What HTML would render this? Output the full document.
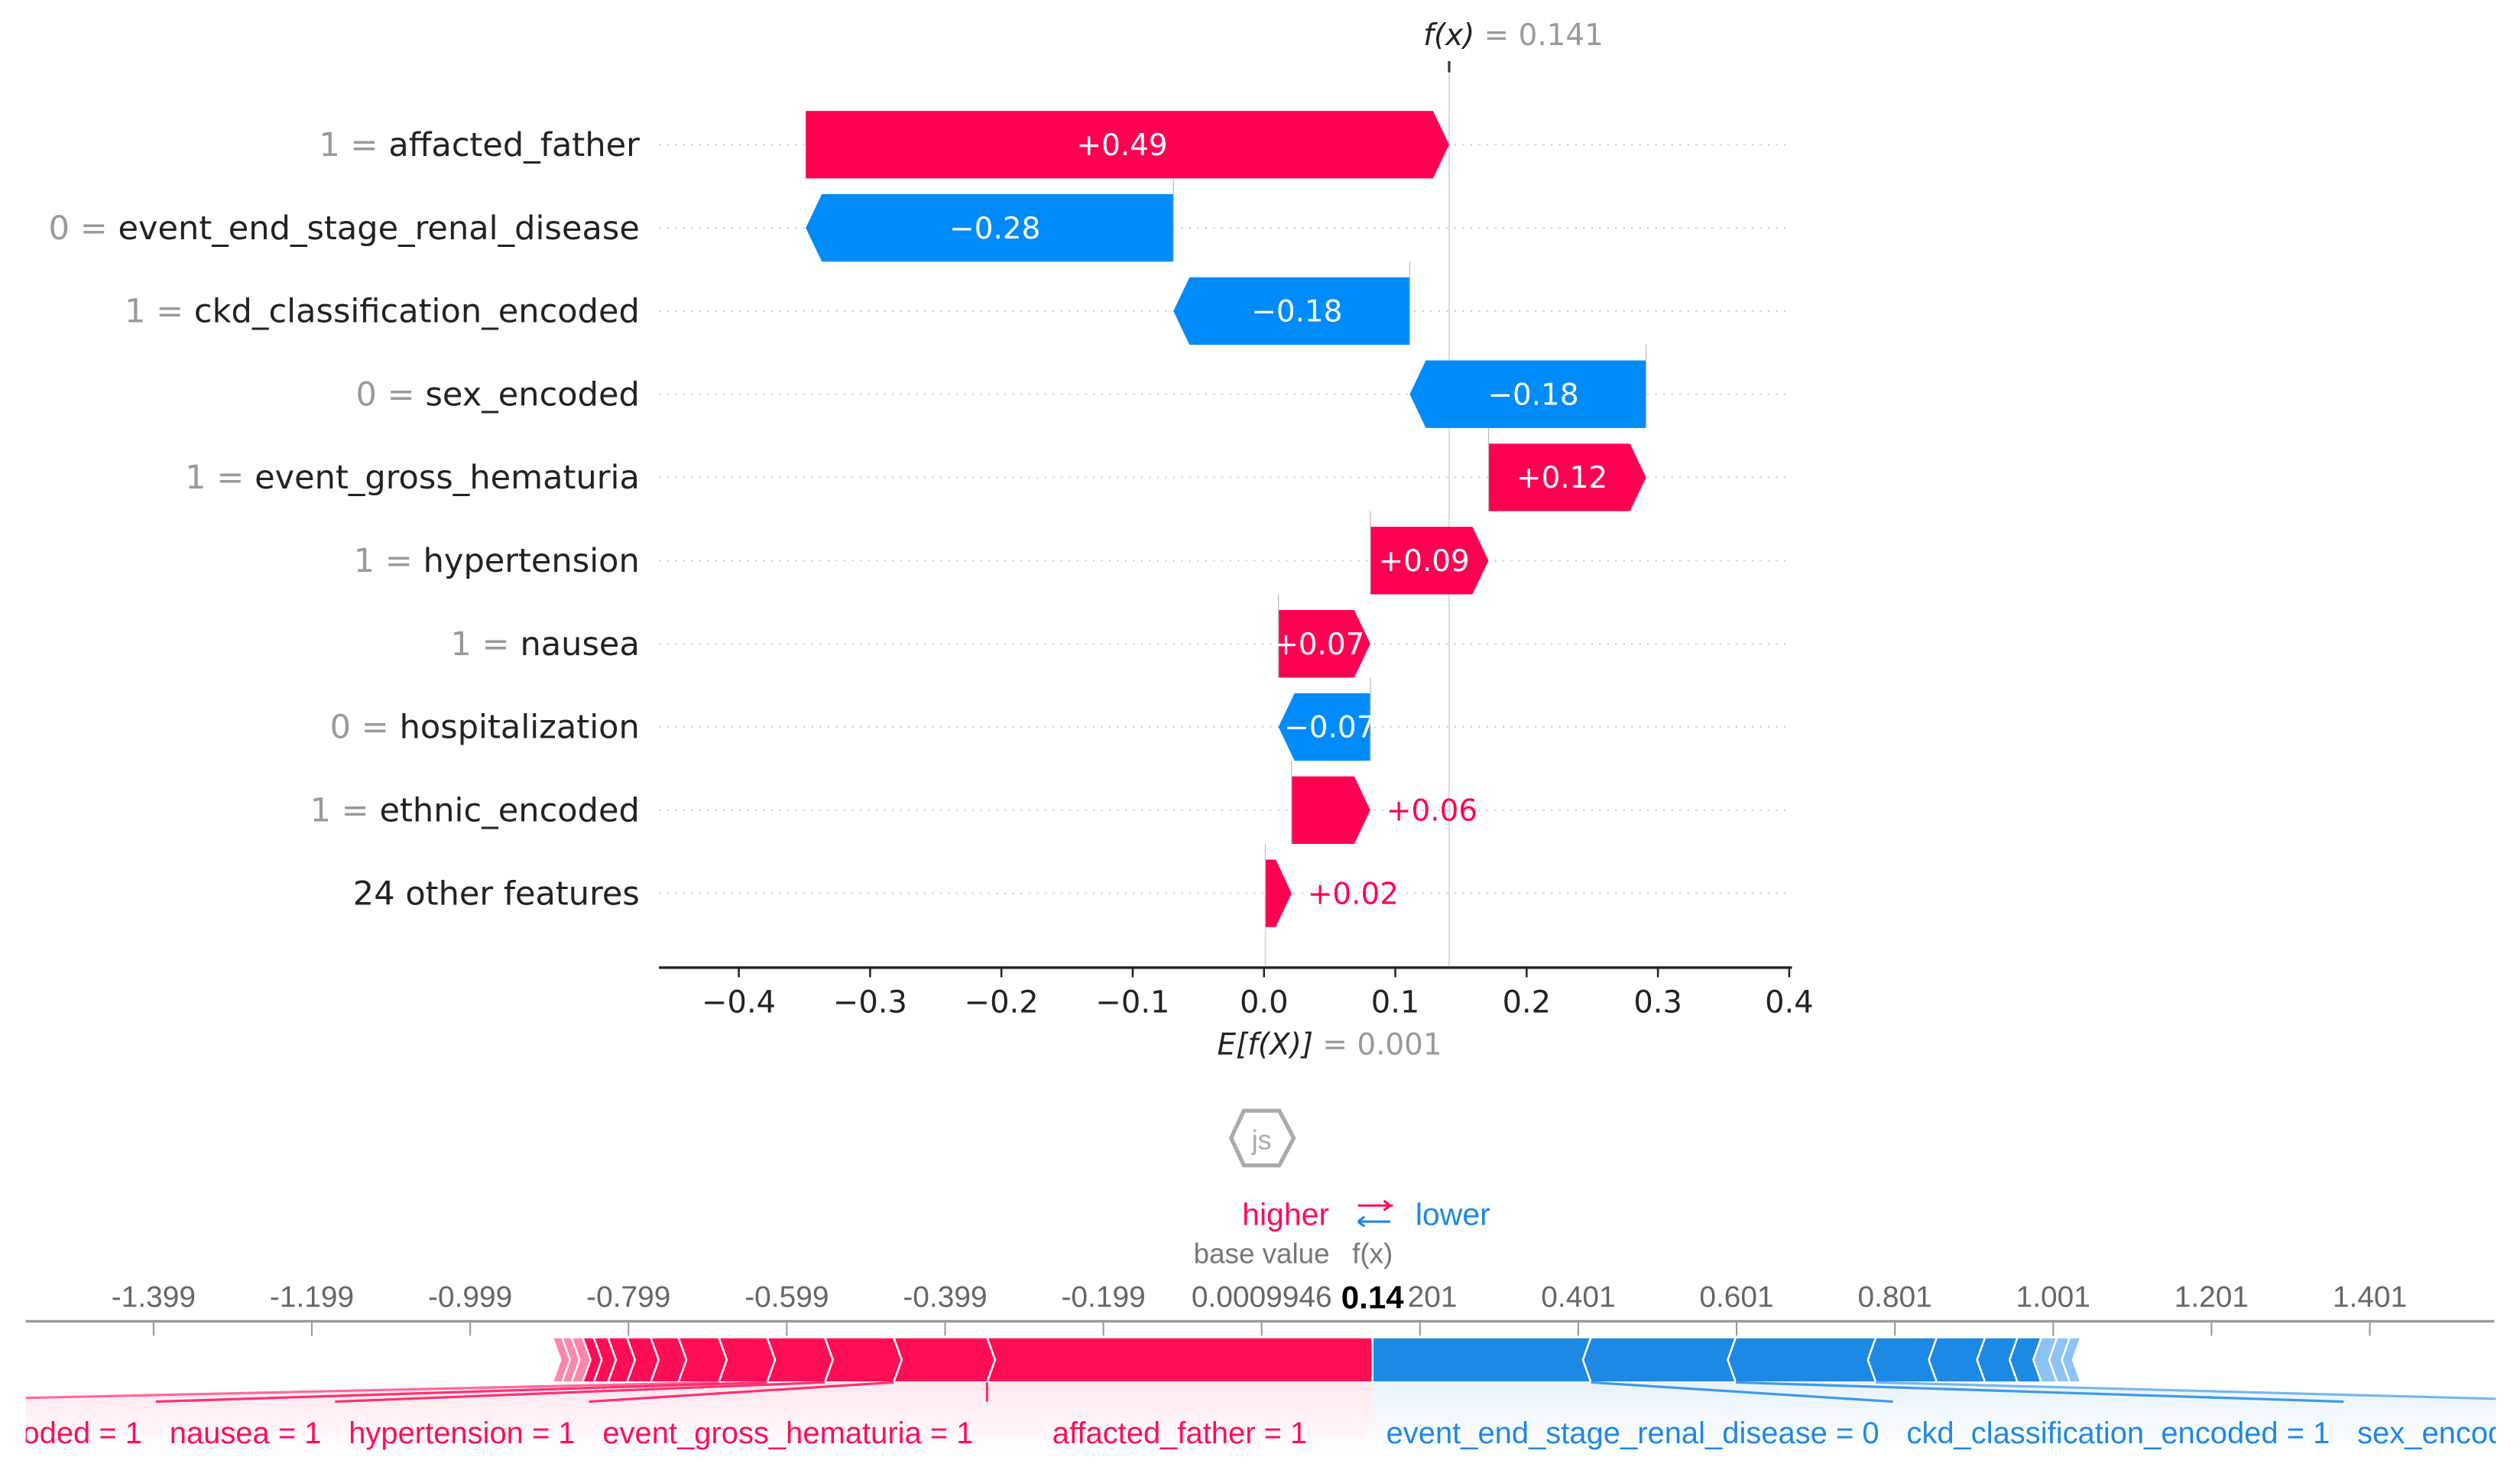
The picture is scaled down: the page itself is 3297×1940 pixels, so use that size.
<!DOCTYPE html>
<html><head><meta charset="utf-8">
<style>
html,body{margin:0;padding:0;background:#fff;}
svg{display:block;}
.wf{font-family:"DejaVu Sans","Liberation Sans",sans-serif;}
.fp{font-family:"Liberation Sans",Arial,sans-serif;}
</style></head>
<body>
<svg id="chart" width="3297" height="1940" viewBox="0 0 1568 922.6" xmlns="http://www.w3.org/2000/svg">
<defs>
<linearGradient id="gr" x1="0" y1="0" x2="0" y2="1"><stop offset="0" stop-color="#ff0d57" stop-opacity="0.1"/><stop offset="1" stop-color="#ff0d57" stop-opacity="0"/></linearGradient>
<linearGradient id="gb" x1="0" y1="0" x2="0" y2="1"><stop offset="0" stop-color="#1e88e5" stop-opacity="0.1"/><stop offset="1" stop-color="#1e88e5" stop-opacity="0"/></linearGradient>
<linearGradient id="lr" x1="0" y1="0" x2="0" y2="1"><stop offset="0" stop-color="#ff0d57" stop-opacity="0.6"/><stop offset="1" stop-color="#ff0d57" stop-opacity="0"/></linearGradient>
<linearGradient id="lb" x1="0" y1="0" x2="0" y2="1"><stop offset="0" stop-color="#1e88e5" stop-opacity="0.6"/><stop offset="1" stop-color="#1e88e5" stop-opacity="0"/></linearGradient>
<clipPath id="fpclip"><rect x="16" y="0" width="1537" height="923"/></clipPath>
</defs>
<g id="waterfall" class="wf"></g>
<g id="logo">
<polygon points="774,691 796,691 805,708 796,725 774,725 766,708" fill="none" stroke="#aaa" stroke-width="2.5"/>
<text x="785" y="715" text-anchor="middle" font-family="Liberation Sans,sans-serif" font-size="17" fill="#aaa">js</text>
</g>
<g id="force" class="fp"></g>
</svg>
<script>
// ---------- waterfall data ----------
const wfFeatureValues = ["1","0","1","0","1","1","1","0","1",""];
const wfFeatureNames = ["affacted_father","event_end_stage_renal_disease","ckd_classification_encoded","sex_encoded","event_gross_hematuria","hypertension","nausea","hospitalization","ethnic_encoded","24 other features"];
const wfShap = [0.49,-0.28,-0.18,-0.18,0.12,0.09,0.07,-0.07,0.06,0.02];
const wfBase = 0.001;
const wfFx = 0.141;
const wfTicks = [-0.4,-0.3,-0.2,-0.1,0.0,0.1,0.2,0.3,0.4];
const wfTickLabels = ["\u22120.4","\u22120.3","\u22120.2","\u22120.1","0.0","0.1","0.2","0.3","0.4"];
// ---------- force plot data ----------
const fpPosNames = ["affacted_father = 1","event_gross_hematuria = 1","hypertension = 1","nausea = 1","ethnic_encoded = 1","","","","","","","","",""];
const fpPosVals = [0.487,0.118,0.087,0.073,0.061,0.051,0.035,0.030,0.024,0.018,0.014,0.014,0.012,0.012];
const fpNegNames = ["event_end_stage_renal_disease = 0","ckd_classification_encoded = 1","sex_encoded = 0","","","","","","",""];
const fpNegVals = [0.276,0.183,0.177,0.077,0.061,0.041,0.030,0.020,0.016,0.014];
const fpTicks = [-1.399,-1.199,-0.999,-0.799,-0.599,-0.399,-0.199,0.0009946,0.201,0.401,0.601,0.801,1.001,1.201,1.401];
const fpTickLabels = ["-1.399","-1.199","-0.999","-0.799","-0.599","-0.399","-0.199","0.0009946","0.201","0.401","0.601","0.801","1.001","1.201","1.401"];
const fpOut = 0.141;

const NS="http://www.w3.org/2000/svg";
function mk(parent,tag,attrs,txt){const e=document.createElementNS(NS,tag);for(const k in attrs)e.setAttribute(k,attrs[k]);if(txt!==undefined)e.textContent=txt;parent.appendChild(e);return e;}

// ---------- waterfall ----------
(function(){
const g=document.getElementById('waterfall');
const X=v=>786.5+v*817;
const rowY=i=>90+i*51.75;
const axisY=602, barH=42;
wfShap.forEach((v,i)=>{const l=mk(g,'line',{x1:410,x2:1113,y1:rowY(i),y2:rowY(i),stroke:'#ccc','stroke-width':1,'stroke-dasharray':'1,4'});

});
let l=mk(g,'line',{x1:X(wfFx),x2:X(wfFx),y1:40,y2:axisY,stroke:'#ddd','stroke-width':1});

l=mk(g,'line',{x1:X(wfBase),x2:X(wfBase),y1:rowY(wfShap.length-1),y2:axisY,stroke:'#ddd','stroke-width':1});

mk(g,'line',{x1:X(wfFx),x2:X(wfFx),y1:38,y2:45,stroke:'#333','stroke-width':1.5});
let cur=wfBase;
const starts=[];
for(let i=wfShap.length-1;i>=0;i--){starts[i]=cur;cur+=wfShap[i];}
wfShap.forEach((v,i)=>{
 const a=X(starts[i]), b=X(starts[i]+v), cy=rowY(i), t=cy-barH/2, bt=cy+barH/2;
 const w=Math.abs(b-a), h=Math.min(10,w*0.6);
 let pts;
 if(v>=0) pts=[[a,t],[b-h,t],[b,cy],[b-h,bt],[a,bt]];
 else pts=[[a,t],[b+h,t],[b,cy],[b+h,bt],[a,bt]];
 const col=v>=0?'#ff0051':'#008bfb';
 const p=mk(g,'polygon',{points:pts.map(q=>q.join(',')).join(' '),fill:col});
 
 
 if(i>0){const c=mk(g,'line',{x1:a,x2:a,y1:bt,y2:rowY(i-1)+barH/2,stroke:'#bbb','stroke-width':0.6});
 }
 const lbl=(v>=0?'+':'\u2212')+Math.abs(v).toFixed(2);
 let tx;
 if(w>=52){tx=mk(g,'text',{x:(a+b)/2+(v>=0?-h/3:h/3),y:cy+6.5,'text-anchor':'middle','font-size':18.5,fill:'#fff'},lbl);}
 else{tx=mk(g,'text',{x:Math.max(a,b)+10,y:cy+6.5,'text-anchor':'start','font-size':18.5,fill:col},lbl);}
 
 const fl=mk(g,'text',{x:398,y:cy+7,'text-anchor':'end','font-size':20.5,fill:'#222'});
 
 if(wfFeatureValues[i]!==''){mk(fl,'tspan',{fill:'#999'},wfFeatureValues[i]+' = ');}
 mk(fl,'tspan',{},wfFeatureNames[i]);
});
l=mk(g,'line',{x1:410,x2:1115,y1:axisY,y2:axisY,stroke:'#222','stroke-width':1.6});

wfTicks.forEach((v,i)=>{mk(g,'line',{x1:X(v),x2:X(v),y1:axisY,y2:axisY+6,stroke:'#222','stroke-width':1.2});
 const t=mk(g,'text',{x:X(v),y:axisY+28,'text-anchor':'middle','font-size':19,fill:'#222'},wfTickLabels[i]);
 });
let t=mk(g,'text',{x:X(wfFx)+40,y:28,'text-anchor':'middle','font-size':18.5,fill:'#222'});

mk(t,'tspan',{'font-style':'italic'},'f(x)');mk(t,'tspan',{fill:'#999'},' = '+wfFx.toFixed(3));
t=mk(g,'text',{x:X(wfBase)+40,y:656,'text-anchor':'middle','font-size':18.5,fill:'#222'});

mk(t,'tspan',{'font-style':'italic'},'E[f(X)]');mk(t,'tspan',{fill:'#999'},' = '+wfBase.toFixed(3));
})();

// ---------- force plot ----------
(function(){
const g=document.getElementById('force');
const X=v=>854+(v-fpOut)*492.5;
const axisY=822, bt=832, bb=860, RED='#ff0d57', BLUE='#1e88e5';
let t=mk(g,'text',{x:800,y:762,'text-anchor':'middle','font-size':19.5,fill:RED},'higher');

t=mk(g,'text',{x:904,y:762,'text-anchor':'middle','font-size':19.5,fill:BLUE},'lower');

mk(g,'path',{d:'M845,750 h20 l-4,-3 M845,750 h20 l-4,3',stroke:RED,fill:'none','stroke-width':1.5});
mk(g,'path',{d:'M845,760 h20 M845,760 l4,-3 M845,760 l4,3',stroke:BLUE,fill:'none','stroke-width':1.5});
t=mk(g,'text',{x:785,y:786,'text-anchor':'middle','font-size':17.5,fill:'#777'},'base value');

t=mk(g,'text',{x:854,y:786,'text-anchor':'middle','font-size':17.5,fill:'#777'},'f(x)');

let l=mk(g,'line',{x1:16,x2:1552,y1:axisY,y2:axisY,stroke:'#999','stroke-width':1.6});

fpTicks.forEach((v,i)=>{mk(g,'line',{x1:X(v),x2:X(v),y1:axisY,y2:axisY+9,stroke:'#999','stroke-width':1});
 const tt=mk(g,'text',{x:X(v),y:813,'text-anchor':'middle','font-size':18.5,fill:'#666'},fpTickLabels[i]);
 });
const bgw=44;
mk(g,'rect',{x:X(fpOut)-bgw/2,y:795,width:bgw,height:22,fill:'#fff'});
t=mk(g,'text',{x:X(fpOut),y:814,'text-anchor':'middle','font-size':20,'font-weight':'bold',fill:'#000'},fpOut.toFixed(2));

const cg=mk(g,'g',{'clip-path':'url(#fpclip)'});
const mid=(bt+bb)/2, ch=5;
let cur=fpOut; const posSeg=[];
fpPosVals.forEach((v,i)=>{const r=X(cur), lft=X(cur-v); posSeg.push([lft,r]); cur-=v;});
let negSeg=[]; cur=fpOut;
fpNegVals.forEach((v,i)=>{const lft=X(cur), r=X(cur+v); negSeg.push([lft,r]); cur+=v;});
posSeg.forEach((s,i)=>{const [a,b]=s;
 const rt = i===0? `${b},${bt} ${b},${bb}` : `${b},${bt} ${b+ch},${mid} ${b},${bb}`;
 const p=mk(cg,'polygon',{points:`${a},${bt} ${rt} ${a},${bb} ${a+ch},${mid}`,fill:RED,stroke:'#fff','stroke-width':1.2,opacity:i>=fpPosVals.length-3?0.5:1});
 });
negSeg.forEach((s,i)=>{const [a,b]=s;
 const lf = i===0? `${a},${bb} ${a},${bt}` : `${a},${bb} ${a-ch},${mid} ${a},${bt}`;
 const p=mk(cg,'polygon',{points:`${lf} ${b},${bt} ${b-ch},${mid} ${b},${bb}`,fill:BLUE,stroke:'#fff','stroke-width':1.2,opacity:i>=fpNegVals.length-3?0.5:1});
 });
const ly=872, lb=905, ty=898;
function measure(s){const tmp=mk(g,'text',{'font-size':19,x:0,y:-100},s);const w=tmp.getComputedTextLength()*1.0;g.removeChild(tmp);return w;}
let edge=X(fpOut);
posSeg.forEach((s,i)=>{ if(!fpPosNames[i])return;
 const tw=measure(fpPosNames[i]); const bw=Math.max(s[1]-s[0],tw+17);
 const x1=edge, x0=edge-bw;
 mk(cg,'polygon',{points:`${s[0]},${bb} ${s[1]},${bb} ${x1},${ly} ${x1},${lb} ${x0},${lb} ${x0},${ly}`,fill:'url(#gr)'});
 if(i>0) mk(cg,'polyline',{points:`${s[1]},${bb} ${x1},${ly}`,fill:'none',stroke:RED,'stroke-width':1.5,opacity:0.6});
 mk(cg,'polyline',{points:`${s[0]},${bb} ${x0},${ly}`,fill:'none',stroke:RED,'stroke-width':1.5,opacity:0.6});
 mk(cg,'line',{x1:x0,x2:x0,y1:ly,y2:lb+5,stroke:'url(#lr)','stroke-width':1});
 const tt=mk(cg,'text',{x:(x0+x1)/2,y:ty,'text-anchor':'middle','font-size':19,fill:RED},fpPosNames[i]);
 
 edge=x0;});
edge=X(fpOut);
mk(cg,'line',{x1:edge,x2:edge,y1:bb,y2:lb+5,stroke:'url(#lr)','stroke-width':1});
negSeg.forEach((s,i)=>{ if(!fpNegNames[i])return;
 const tw=measure(fpNegNames[i]); const bw=Math.max(s[1]-s[0],tw+17);
 const x0=edge, x1=edge+bw;
 mk(cg,'polygon',{points:`${s[0]},${bb} ${s[1]},${bb} ${x1},${ly} ${x1},${lb} ${x0},${lb} ${x0},${ly}`,fill:'url(#gb)'});
 if(i>0) mk(cg,'polyline',{points:`${s[0]},${bb} ${x0},${ly}`,fill:'none',stroke:BLUE,'stroke-width':1.5,opacity:0.6});
 mk(cg,'polyline',{points:`${s[1]},${bb} ${x1},${ly}`,fill:'none',stroke:BLUE,'stroke-width':1.5,opacity:0.6});
 mk(cg,'line',{x1:x1,x2:x1,y1:ly,y2:lb+5,stroke:'url(#lb)','stroke-width':1});
 const tt=mk(cg,'text',{x:(x0+x1)/2,y:ty,'text-anchor':'middle','font-size':19,fill:BLUE},fpNegNames[i]);
 
 edge=x1;});
})();
</script>
</body></html>
